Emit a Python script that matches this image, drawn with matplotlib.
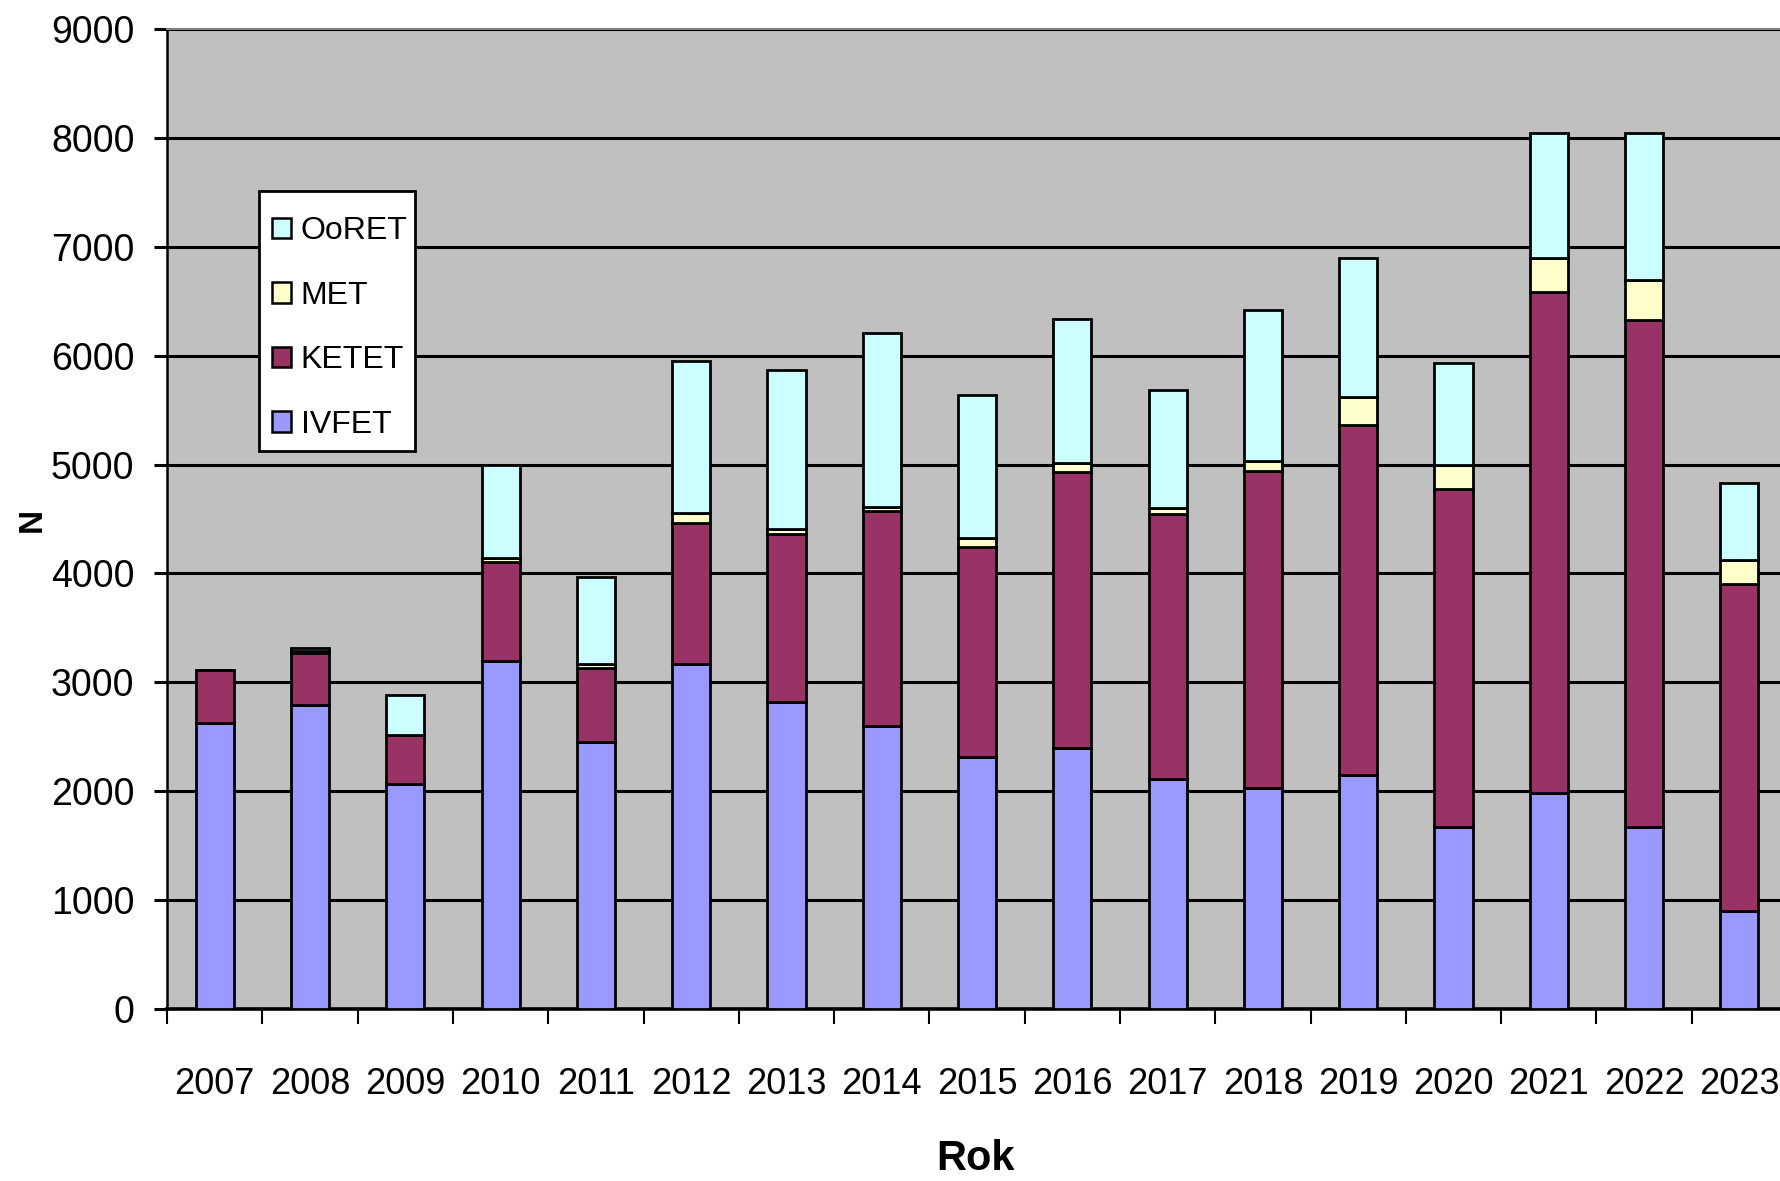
import numpy as np
import matplotlib
matplotlib.use("Agg")
import matplotlib.pyplot as plt
from matplotlib.patches import Patch, Rectangle

# data
years = ["2007", "2008", "2009", "2010", "2011", "2012", "2013", "2014", "2015",
         "2016", "2017", "2018", "2019", "2020", "2021", "2022", "2023"]
ivfet = [2630, 2795, 2065, 3195, 2455, 3165, 2823, 2600, 2316, 2395, 2110, 2030, 2148, 1668, 1980, 1668, 905]
ketet = [483, 477, 449, 915, 673, 1300, 1536, 1975, 1926, 2533, 2437, 2911, 3218, 3107, 4605, 4662, 2995]
met = [0, 13, 0, 30, 37, 94, 53, 40, 87, 83, 58, 88, 255, 223, 315, 368, 222]
ooret = [0, 27, 370, 855, 800, 1392, 1453, 1594, 1312, 1326, 1084, 1389, 1279, 934, 1148, 1350, 713]

plt.rcParams["font.family"] = ["Liberation Sans", "DejaVu Sans"]

fig = plt.figure(figsize=(17.81, 11.81), dpi=100)
ax = fig.add_axes([0.0938, 0.1456, 0.9096, 0.8298])
ax.set_facecolor("#C0C0C0")

x = np.arange(len(years))
w = 0.4
ec = dict(edgecolor="black", linewidth=2.0, zorder=3)
b1 = np.array(ivfet)
b2 = b1 + np.array(ketet)
b3 = b2 + np.array(met)
ax.bar(x, ivfet, w, color="#9999FF", **ec)
ax.bar(x, ketet, w, bottom=b1, color="#993366", **ec)
ax.bar(x, met, w, bottom=b2, color="#FFFFCC", **ec)
ax.bar(x, ooret, w, bottom=b3, color="#CCFFFF", **ec)

ax.set_xlim(-0.5, len(years) - 0.5)
ax.set_ylim(0, 9000)
ax.set_yticks(range(0, 9001, 1000))
ax.yaxis.grid(True, color="black", linewidth=2.2, zorder=1)
ax.set_axisbelow(True)

ax.set_xticks(x)
ax.set_xticklabels(years, fontsize=26)
ax.set_xticks(np.arange(-0.5, len(years), 1), minor=True)
ax.tick_params(axis="x", which="major", length=0, pad=42)
ax.tick_params(axis="x", which="minor", length=11, width=1.5, direction="out")
ax.tick_params(axis="y", length=9.5, width=2.2, pad=14, labelsize=27)

ax.spines["top"].set_color("#808080")
ax.spines["top"].set_linewidth(1.5)
ax.spines["right"].set_visible(False)
ax.spines["left"].set_linewidth(1.8)
ax.spines["bottom"].set_linewidth(2.6)

fig.text(0.5475, 0.0186, "Rok", fontsize=30, fontweight="bold", ha="center", va="center")
fig.text(0.018, 0.56, "N", fontsize=24, fontweight="bold", rotation=90, ha="center", va="center")

# legend box drawn separately so padding matches the original
ax.add_patch(Rectangle((0.0568, 0.569), 0.0963, 0.2657, transform=ax.transAxes,
                       facecolor="white", edgecolor="black", linewidth=2.0, zorder=4.5))
handles = [Patch(facecolor=c, edgecolor="black", linewidth=1.8)
           for c in ["#CCFFFF", "#FFFFCC", "#993366", "#9999FF"]]
leg = ax.legend(handles, ["OoRET", "MET", "KETET", "IVFET"], loc="upper left",
                bbox_to_anchor=(0.0648, 0.809), fontsize=23, frameon=False,
                handlelength=0.6, handleheight=0.6, handletextpad=0.3,
                labelspacing=1.08, borderpad=0, borderaxespad=0)
leg.set_zorder(5)

fig.savefig("out.png", dpi=100)
